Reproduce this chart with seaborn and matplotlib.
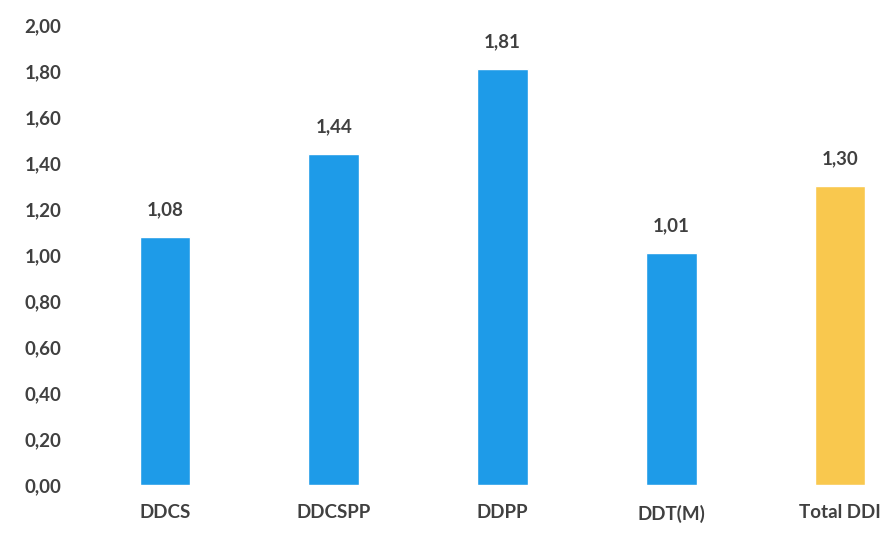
import matplotlib
matplotlib.use("Agg")
import matplotlib.pyplot as plt
import seaborn as sns
import pandas as pd

# values
categories = ["DDCS", "DDCSPP", "DDPP", "DDT(M)", "Total DDI"]
values = [1.08, 1.44, 1.81, 1.01, 1.30]
colors = ["#1E9BE8", "#1E9BE8", "#1E9BE8", "#1E9BE8", "#F9C84E"]
yticks = [0.0, 0.2, 0.4, 0.6, 0.8, 1.0, 1.2, 1.4, 1.6, 1.8, 2.0]

df = pd.DataFrame({"cat": categories, "val": values})

sns.set_style("white")
plt.rcParams["font.family"] = ["Lato", "DejaVu Sans"]

fig = plt.figure(figsize=(8.93, 5.46), dpi=100)
ax = fig.add_axes([100 / 893, 61 / 546, 780 / 893, 460 / 546])

sns.barplot(data=df, x="cat", y="val", hue="cat", palette=colors,
            width=0.3, legend=False, ax=ax, saturation=1)

for i, v in enumerate(values):
    ax.text(i, v + 0.08, f"{v:.2f}".replace(".", ","), ha="center", va="bottom",
            fontsize=13.5, fontweight="bold", color="#404040")

ax.set_ylim(0, 2.0)
ax.set_xlim(-0.385, 4.237)
ax.set_yticks(yticks)
ax.set_yticklabels([f"{t:.2f}".replace(".", ",") for t in yticks],
                   fontsize=13.5, fontweight="bold", color="#404040")
ax.tick_params(axis="y", length=0, pad=28)
ax.tick_params(axis="x", length=0, pad=14, labelsize=13.5, labelcolor="#404040")
for lab in ax.get_xticklabels():
    lab.set_fontweight("bold")
ax.set_xlabel("")
ax.set_ylabel("")
sns.despine(ax=ax, left=True, bottom=True)

fig.savefig("out.png", dpi=100)
